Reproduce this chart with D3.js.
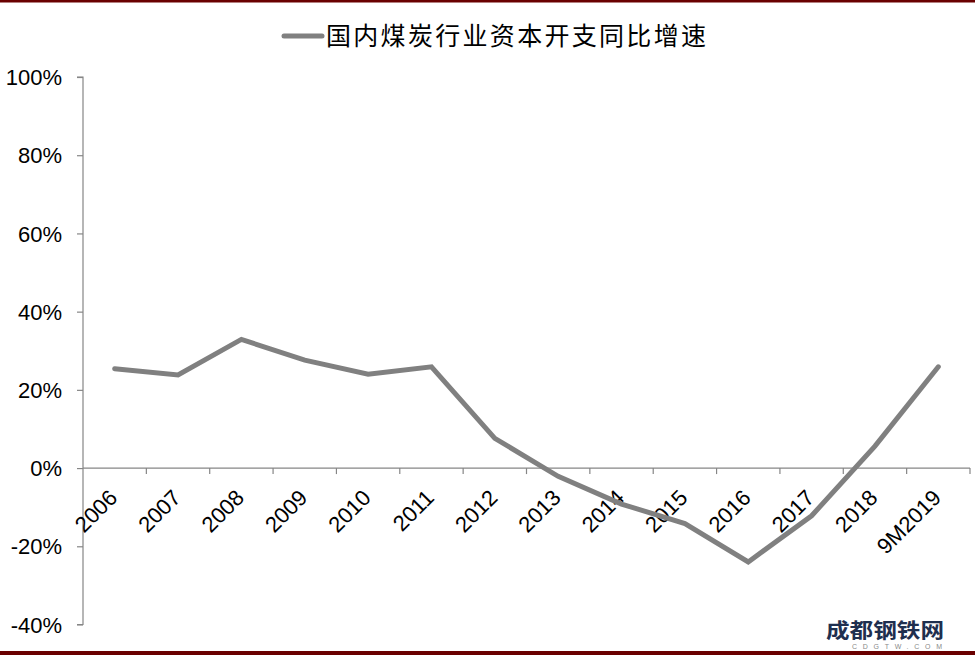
<!DOCTYPE html>
<html>
<head>
<meta charset="utf-8">
<script src="https://cdn.jsdelivr.net/npm/d3@7"></script>
<style>
  html, body { margin: 0; padding: 0; background: #fff; }
  svg { display: block; }
</style>
</head>
<body>
<svg id="chart" width="975" height="656"></svg>
<script>
const categories = ["2006","2007","2008","2009","2010","2011","2012","2013","2014","2015","2016","2017","2018","9M2019"];
const growth = [25.4, 23.8, 32.9, 27.6, 24.0, 25.9, 7.6, -2.1, -9.2, -14.2, -24.0, -12.2, 5.6, 25.9];
const yTicks = [-40, -20, 0, 20, 40, 60, 80, 100];
const seriesName = "国内煤炭行业资本开支同比增速";

const svg = d3.select("#chart");
const W = 975, H = 656;

// frame lines (top & bottom dark red)
svg.append("rect").attr("x", 0).attr("y", 0).attr("width", W).attr("height", 2.5).attr("fill", "#6a0000");
svg.append("rect").attr("x", 0).attr("y", 651).attr("width", W).attr("height", 4).attr("fill", "#6a0000");

const x = d3.scaleBand().domain(categories).range([83, 970]).paddingInner(0).paddingOuter(0);
const y = d3.scaleLinear().domain([-40, 100]).range([624.5, 77]);

// y axis
const yAxis = d3.axisLeft(y).tickValues(yTicks).tickSize(6).tickPadding(15).tickFormat(d => d + "%");
const gy = svg.append("g").attr("transform", "translate(83,0)").call(yAxis);
gy.select(".domain").attr("stroke", "#868686").attr("stroke-width", 1.2).attr("d", `M-6,${y(100)}H0V${y(-40)}H-6`);
gy.selectAll(".tick line").attr("stroke", "#868686").attr("stroke-width", 1.2);
gy.selectAll(".tick text")
  .attr("fill", "#000")
  .style("font-family", "Liberation Sans, Arial, sans-serif")
  .style("font-size", "22px")
  .attr("dy", "0.35em");

// x axis at 0
const xAxis = d3.axisBottom(x).tickSize(0).tickFormat("");
const gx = svg.append("g").attr("transform", `translate(0,${y(0)})`).call(xAxis);
gx.select(".domain").attr("stroke", "#868686").attr("stroke-width", 1.2).attr("d", `M83,0H970`);
// tick marks at band boundaries
const bounds = categories.map(c => x(c)).concat([x(categories[categories.length-1]) + x.bandwidth()]);
gx.selectAll(".bound").data(bounds.slice(1)).enter().append("line")
  .attr("class", "bound")
  .attr("x1", d => d).attr("x2", d => d)
  .attr("y1", 0).attr("y2", 6)
  .attr("stroke", "#868686").attr("stroke-width", 1.2);

// x labels rotated
svg.append("g").selectAll("text").data(categories).enter().append("text")
  .attr("transform", d => `translate(${x(d) + x.bandwidth()/2 + 4},${y(0) + 31}) rotate(-45)`)
  .attr("text-anchor", "end")
  .style("font-family", "Liberation Sans, Arial, sans-serif")
  .style("font-size", "22px")
  .attr("fill", "#000")
  .text(d => d);

// line
const line = d3.line()
  .x((d, i) => x(categories[i]) + x.bandwidth()/2)
  .y(d => y(d));
svg.append("path")
  .datum(growth)
  .attr("d", line)
  .attr("fill", "none")
  .attr("stroke", "#808080")
  .attr("stroke-width", 5)
  .attr("stroke-linejoin", "miter")
  .attr("stroke-linecap", "round");

// legend
const lg = svg.append("g");
lg.append("line").attr("x1", 284).attr("x2", 322).attr("y1", 36).attr("y2", 36)
  .attr("stroke", "#808080").attr("stroke-width", 5).attr("stroke-linecap", "round");
lg.append("text").attr("x", 326).attr("y", 36).attr("dy", "0.36em")
  .style("font-family", "Noto Sans CJK SC, sans-serif")
  .style("font-size", "25px")
  .attr("textLength", 380)
  .attr("lengthAdjust", "spacing")
  .attr("fill", "#000")
  .text(seriesName);

// watermark
const wm = svg.append("g");
wm.append("text").attr("x", 826).attr("y", 638)
  .style("font-family", "Noto Sans CJK SC, sans-serif")
  .style("font-size", "20px").style("font-weight", "bold")
  .attr("textLength", 118)
  .attr("lengthAdjust", "spacingAndGlyphs")
  .attr("fill", "#1f2f4f")
  .text("成都钢铁网");
wm.append("text").attr("x", 852).attr("y", 649)
  .style("font-family", "Liberation Sans, Arial, sans-serif")
  .style("font-size", "7px")
  .attr("textLength", 90)
  .attr("lengthAdjust", "spacing")
  .attr("fill", "#8a8a8a")
  .text("CDGTW.COM");
</script>
</body>
</html>
